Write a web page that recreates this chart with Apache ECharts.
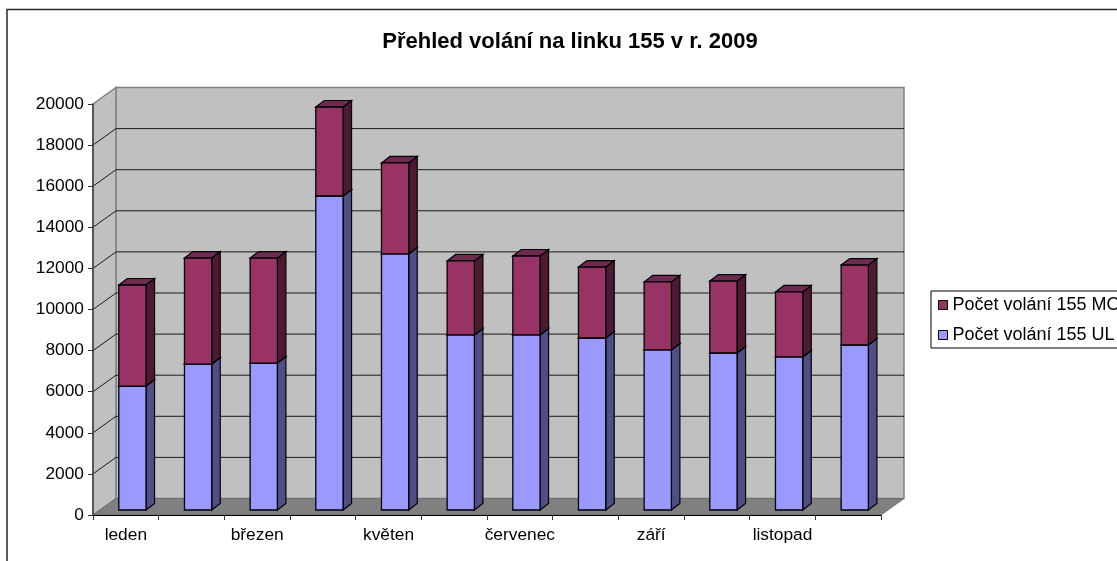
<!DOCTYPE html>
<html>
<head>
<meta charset="utf-8">
<style>html,body{margin:0;padding:0;background:#fff}#c{width:1117px;height:561px}</style>
<script src="https://cdn.jsdelivr.net/npm/echarts@6/dist/echarts.min.js"></script>
</head>
<body>
<div id="c"></div>
<script>
const titleText = 'Přehled volání na linku 155 v r. 2009';
const months = ['leden','únor','březen','duben','květen','červen','červenec','srpen','září','říjen','listopad','prosinec'];
const ulName = 'Počet volání 155 UL';
const moName = 'Počet volání 155 MO';
const ulCalls = [6030,7100,7150,15280,12460,8520,8520,8370,7790,7640,7450,8030];
const moCalls = [4920,5160,5110,4330,4430,3600,3840,3450,3310,3500,3160,3890];
const yTicks = [0,2000,4000,6000,8000,10000,12000,14000,16000,18000,20000];

const FONT = '"Liberation Sans", Arial, sans-serif';
const wallDX = 23, wallDY = -16.5;      // depth of the plot box
const barShiftX = 6.6, barShiftY = -5;  // bar front face inside the box
const barDX = 8.5, barDY = -6.5;        // depth of a bar
const barRatio = 0.415;

function poly(points, fill, stroke, lw) {
  return { type: 'polygon', shape: { points: points },
    style: { fill: fill, stroke: stroke || null, lineWidth: lw || 0 } };
}
function seg(points, stroke, lw) {
  return { type: 'polyline', shape: { points: points },
    style: { fill: null, stroke: stroke, lineWidth: lw } };
}

function renderWalls(params, api) {
  const cs = params.coordSys;
  const x0 = cs.x, x1 = cs.x + cs.width;
  const v = api.value(0);
  const y = api.coord([0, v])[1];
  const bx0 = x0 + wallDX, bx1 = x1 + wallDX, yb = y + wallDY;
  const children = [];
  if (params.dataIndex === 0) {
    const yTop = cs.y, yBot = cs.y + cs.height;
    children.push(poly([[bx0, yTop + wallDY],[bx1, yTop + wallDY],[bx1, yBot + wallDY],[bx0, yBot + wallDY]], '#c0c0c0', '#808080', 1.5));
    children.push(poly([[x0, yTop],[bx0, yTop + wallDY],[bx0, yBot + wallDY],[x0, yBot]], '#c0c0c0', '#808080', 1.5));
    children.push(poly([[x0, yBot],[bx0, yBot + wallDY],[bx1, yBot + wallDY],[x1, yBot]], '#808080', '#6e6e6e', 1));
  } else if (params.dataIndex < params.dataInsideLength - 1) {
    children.push(seg([[x0, y],[bx0, yb],[bx1, yb]], '#1a1a1a', 1));
  }
  return { type: 'group', children: children };
}

function makeBar(lows, values, sideColor, topColor) {
  return function (params, api) {
    const i = params.dataIndex;
    const cw = api.size([1, 0])[0];
    const w = cw * barRatio;
    const c0 = api.coord([i, lows[i]]);
    const c1 = api.coord([i, lows[i] + values[i]]);
    const l = c0[0] + barShiftX - w / 2, r = l + w;
    const b = c0[1] + barShiftY, t = c1[1] + barShiftY;
    const color = api.visual('color');
    const sk = '#000';
    return { type: 'group', children: [
      poly([[r, b],[r + barDX, b + barDY],[r + barDX, t + barDY],[r, t]], sideColor, sk, 1.2),
      poly([[l, t],[l + barDX, t + barDY],[r + barDX, t + barDY],[r, t]], topColor, sk, 1.2),
      poly([[l, b],[r, b],[r, t],[l, t]], color, sk, 1.3)
    ]};
  };
}

const zeros = months.map(() => 0);
const chart = echarts.init(document.getElementById('c'), null, { renderer: 'canvas' });
chart.setOption({
  animation: false,
  backgroundColor: '#fff',
  title: { text: titleText, left: 565, top: 26, textAlign: 'center',
    textStyle: { fontFamily: FONT, fontSize: 22, fontWeight: 'bold', color: '#000' } },
  graphic: [{ type: 'rect', shape: { x: 7, y: 9.5, width: 1400, height: 800 },
    style: { fill: null, stroke: '#2a2a2a', lineWidth: 1.5 }, z: 1, silent: true }],
  legend: {
    orient: 'vertical', left: 931, top: 291,
    padding: [5, 60, 4, 7], itemGap: 12, itemWidth: 9, itemHeight: 9,
    backgroundColor: '#fff', borderColor: '#000', borderWidth: 1,
    icon: 'rect',
    itemStyle: { borderColor: '#000', borderWidth: 1 },
    textStyle: { fontFamily: FONT, fontSize: 18, color: '#000' },
    data: [moName, ulName]
  },
  grid: { left: 93, top: 104, width: 788, height: 411, containLabel: false },
  xAxis: {
    type: 'category', data: months, z: 5,
    axisLine: { show: true, lineStyle: { color: '#000', width: 1.2 } },
    axisTick: { show: true, interval: 0, length: 5, lineStyle: { color: '#333' } },
    axisLabel: { interval: 1, margin: 12, color: '#000', fontFamily: FONT, fontSize: 17.33 },
    splitLine: { show: false }
  },
  yAxis: {
    type: 'value', min: 0, max: 20000, interval: 2000, z: 5,
    axisLine: { show: true, lineStyle: { color: '#404040', width: 1.5 } },
    axisTick: { show: true, length: 5, lineStyle: { color: '#333' } },
    axisLabel: { margin: 9, color: '#000', fontFamily: FONT, fontSize: 17.33, formatter: v => String(v) },
    splitLine: { show: false }
  },
  series: [
    { type: 'custom', name: 'walls', silent: true, z: 1, clip: false,
      data: yTicks.map(v => [v]), encode: { y: 0 }, renderItem: renderWalls },
    { type: 'custom', name: ulName, z: 3, clip: false,
      itemStyle: { color: '#9999ff' },
      data: ulCalls.map((v, i) => [i, v]), encode: { x: 0, y: 1 },
      renderItem: makeBar(zeros, ulCalls, '#4f4f85', '#7070c0') },
    { type: 'custom', name: moName, z: 3, clip: false,
      itemStyle: { color: '#993366' },
      data: moCalls.map((v, i) => [i, ulCalls[i] + v]), encode: { x: 0, y: 1 },
      renderItem: makeBar(ulCalls, moCalls, '#4d1a33', '#6f2a52') }
  ]
});
</script>
</body>
</html>
